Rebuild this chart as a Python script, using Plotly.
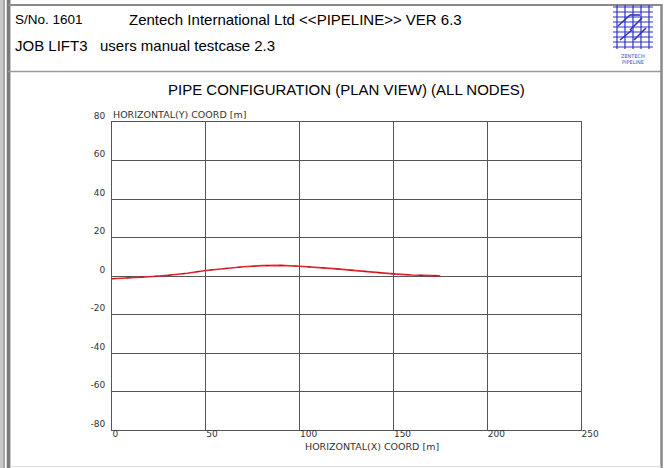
import plotly.graph_objects as go

# ---- data ----
x_coord = [0, 10, 20, 30, 40, 50, 60, 70, 80, 90, 100, 110, 120, 130, 140, 150, 160, 170, 175]
y_coord = [-1.4, -1.0, -0.4, 0.4, 1.4, 2.9, 4.0, 4.8, 5.4, 5.5, 5.1, 4.5, 3.7, 2.8, 1.9, 1.1, 0.5, 0.15, 0.05]
x_ticks = [0, 50, 100, 150, 200, 250]
y_ticks = [-80, -60, -40, -20, 0, 20, 40, 60, 80]

W, H = 664, 468
L, R, T, B = 112, 581, 122, 430


def px(xp):
    return (xp - L) / (R - L)


def py(yp):
    return (B - yp) / (B - T)


fig = go.Figure()
fig.add_trace(go.Scatter(x=x_coord, y=y_coord, mode="lines",
                         line=dict(color="#e8222a", width=1.6), hoverinfo="skip"))
fig.add_trace(go.Scatter(x=x_coord, y=y_coord, mode="lines",
                         line=dict(color="#7a1a1a", width=1, dash="4px,10px"),
                         opacity=0.7, hoverinfo="skip"))

tickfont = dict(family="DejaVu Sans", size=9, color="#333333")
fig.update_xaxes(range=[0, 250], tickvals=x_ticks, ticktext=[str(v) for v in x_ticks],
                 showgrid=True, gridcolor="#555555", gridwidth=1,
                 showline=True, linecolor="#555555", linewidth=1, mirror=True,
                 zeroline=False, ticks="", tickfont=tickfont,
                 ticklabelposition="outside right", ticklabelstandoff=-5, fixedrange=True)
fig.update_yaxes(range=[-80, 80], tickvals=y_ticks, ticktext=[str(v) for v in y_ticks],
                 showgrid=True, gridcolor="#555555", gridwidth=1,
                 showline=True, linecolor="#555555", linewidth=1, mirror=True,
                 zeroline=False, ticks="", tickfont=tickfont,
                 ticklabelposition="outside top", ticklabelstandoff=4, fixedrange=True)

shapes = []


def line(x0, y0, x1, y1, color, width):
    shapes.append(dict(type="line", xref="paper", yref="paper",
                       x0=px(x0), y0=py(y0), x1=px(x1), y1=py(y1),
                       line=dict(color=color, width=width)))


def rect(x0, y0, x1, y1, color):
    shapes.append(dict(type="rect", xref="paper", yref="paper",
                       x0=px(x0), y0=py(y0), x1=px(x1), y1=py(y1),
                       line=dict(width=0), fillcolor=color, layer="below"))


# outer frame (left double border)
rect(0, 0, 3.3, H, "#c8c8c8")
rect(3.3, 0, 4.8, H, "#8c8c8c")
rect(6.7, 0, 10, H, "#7a7a7a")
rect(10, 0, 11, H, "#c8c8c8")
# header box
line(8, 5, 662, 5, "#8a8a8a", 2)
line(8, 71.5, 662, 71.5, "#9a9a9a", 1.5)
line(661.5, 4, 661.5, 468, "#8a8a8a", 2.5)
line(10, 466.5, 661, 466.5, "#e0e0e0", 1)

# logo
blue = "#3030c8"
for yy in [7, 12, 17, 22, 27, 32, 37, 42, 47]:
    line(613, yy, 653, yy, blue, 1.2)
for xx in [617, 625, 633, 641, 649]:
    line(xx, 5, xx, 49, blue, 1.2)
line(618, 26, 630, 15, blue, 1.6)
line(630, 15, 640, 15, blue, 1.6)
line(630, 30, 642, 18, blue, 1.6)
line(634, 40, 646, 28, blue, 1.6)
line(620, 40, 632, 30, blue, 1.6)

annotations = []


def text(s, x, y, size, color="#000000", family="Liberation Sans", xanchor="left"):
    annotations.append(dict(text=s, x=px(x), y=py(y), xref="paper", yref="paper",
                            xanchor=xanchor, yanchor="middle", showarrow=False,
                            font=dict(family=family, size=size, color=color)))


text("S/No. 1601", 13, 20, 13.5)
text("Zentech International Ltd &lt;&lt;PIPELINE&gt;&gt; VER 6.3", 127, 20, 15)
text("JOB LIFT3", 13, 45, 15)
text("users manual testcase 2.3", 98, 45, 15)
text("ZENTECH", 633, 56, 5, color="#4a4ab0", family="DejaVu Sans", xanchor="center")
text("PIPELINE", 633, 62, 5, color="#4a4ab0", family="DejaVu Sans", xanchor="center")
text("PIPE CONFIGURATION (PLAN VIEW) (ALL NODES)", 346, 90, 15, xanchor="center")
text("HORIZONTAL(Y) COORD [m]", 111, 114, 9.5, color="#333333", family="DejaVu Sans")
text("HORIZONTAL(X) COORD [m]", 372, 446, 9.5, color="#333333", family="DejaVu Sans", xanchor="center")

fig.update_layout(width=W, height=H, autosize=False,
                  margin=dict(l=L, r=W - R, t=T, b=H - B, pad=0),
                  paper_bgcolor="white", plot_bgcolor="white",
                  showlegend=False, shapes=shapes, annotations=annotations)

fig.write_html("out.html", config={"displayModeBar": False},
               post_script="document.body.style.margin='0';document.body.style.padding='0';")
